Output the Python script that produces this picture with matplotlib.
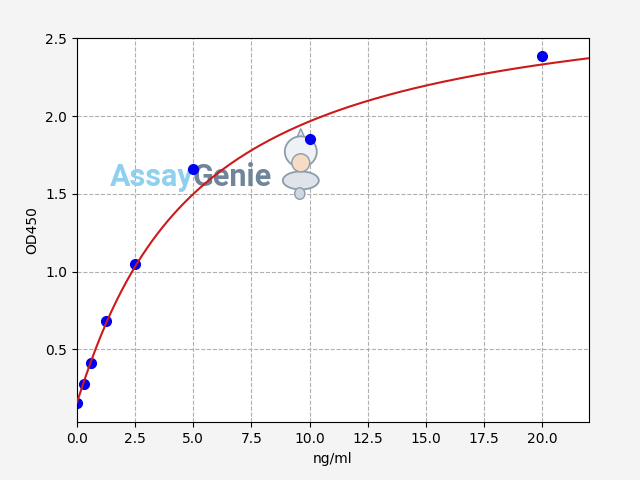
import matplotlib
matplotlib.use("Agg")
import matplotlib.pyplot as plt
from matplotlib.patches import Ellipse, Polygon
import numpy as np

# Standard concentrations and measured OD
conc = [0, 0.3125, 0.625, 1.25, 2.5, 5, 10, 20]
od = [0.157, 0.28, 0.415, 0.685, 1.046, 1.657, 1.856, 2.384]

# 4PL fit parameters
a, b, c, d = 0.157, 1.05, 5.0, 2.84

fig = plt.figure(figsize=(6.4, 4.8), dpi=100, facecolor="#f4f4f4")
ax = fig.add_subplot(111)
fig.subplots_adjust(left=0.12, right=0.92, bottom=0.12, top=0.92)

xs = np.linspace(0, 22, 400)
ys = d + (a - d) / (1 + (xs / c) ** b)

ax.plot(conc, od, "o", color="#0000ee", markersize=7, zorder=2)
ax.plot(xs, ys, color="#cc1a1a", linewidth=1.5, zorder=3)

ax.set_xlim(0, 22)
ax.set_ylim(0.03, 2.5)
ax.set_xticks([0, 2.5, 5, 7.5, 10, 12.5, 15, 17.5, 20])
ax.set_yticks([0.5, 1.0, 1.5, 2.0, 2.5])
ax.grid(True, linestyle="--", color="#b0b0b0", linewidth=0.8)
ax.set_axisbelow(True)
ax.set_xlabel("ng/ml")
ax.set_ylabel("OD450")

# watermark
t1 = ax.text(0.064, 0.616, "Assay", transform=ax.transAxes, fontsize=22,
             fontweight="bold", family="Roboto", color="#8fd0ee", zorder=1)
fig.canvas.draw()
bb = t1.get_window_extent().transformed(ax.transAxes.inverted())
ax.text(bb.x1 - 0.002, 0.616, "Genie", transform=ax.transAxes, fontsize=22,
        fontweight="bold", family="Roboto", color="#70859a", zorder=1)

# little genie figure
g = "#8d9bab"
tr = ax.transAxes
ax.add_patch(Ellipse((0.4375, 0.630), 0.0703, 0.047, transform=tr,
                     facecolor="#dfe4ea", edgecolor=g, lw=1.3, zorder=1))
ax.add_patch(Ellipse((0.4355, 0.596), 0.02, 0.03, transform=tr,
                     facecolor="#cfd7e0", edgecolor=g, lw=1.0, zorder=1))
ax.add_patch(Polygon([(0.4375, 0.765), (0.426, 0.73), (0.449, 0.73)],
                     transform=tr, facecolor="#dfe4ea", edgecolor=g, lw=1.0,
                     zorder=1))
ax.add_patch(Ellipse((0.4375, 0.705), 0.0625, 0.08, transform=tr,
                     facecolor="#eef1f5", edgecolor=g, lw=1.3, zorder=1))
ax.add_patch(Ellipse((0.4375, 0.676), 0.035, 0.047, transform=tr,
                     facecolor="#f6dcc4", edgecolor=g, lw=1.0, zorder=1))

fig.savefig("out.png", dpi=100, facecolor=fig.get_facecolor())
